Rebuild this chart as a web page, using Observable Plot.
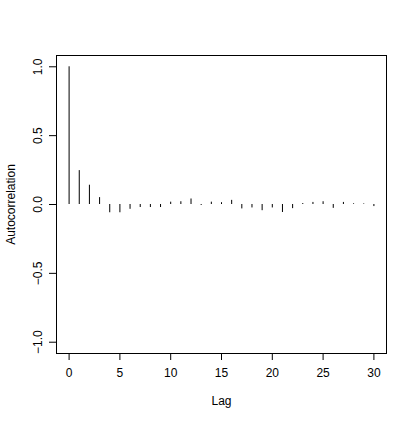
<!DOCTYPE html>
<html>
<head>
<meta charset="utf-8">
<script src="https://cdn.jsdelivr.net/npm/d3@7"></script>
<script src="https://cdn.jsdelivr.net/npm/@observablehq/plot@0.6"></script>
<style>
  html, body { margin: 0; padding: 0; background: #fff; }
  svg { display: block; }
</style>
</head>
<body>
<div id="chart"></div>
<script>
const lags = [0,1,2,3,4,5,6,7,8,9,10,11,12,13,14,15,16,17,18,19,20,21,22,23,24,25,26,27,28,29,30];
const acf  = [1.0,0.246,0.14,0.05,-0.06,-0.06,-0.035,-0.022,-0.022,-0.022,0.017,0.02,0.04,-0.007,0.017,0.013,0.03,-0.032,-0.025,-0.045,-0.025,-0.058,-0.03,0.007,0.015,0.02,-0.028,0.015,0.005,0.004,-0.015];
const xTicks = [0,5,10,15,20,25,30];
const yTicks = [-1,-0.5,0,0.5,1];

const data = lags.map((l, i) => ({lag: l, acf: acf[i]}));

const chart = Plot.plot({
  width: 415,
  height: 423,
  marginLeft: 56,
  marginRight: 29,
  marginTop: 55,
  marginBottom: 70,
  style: {fontFamily: "'Liberation Sans', Arial, sans-serif", fontSize: "12px", background: "#fff", color: "#000"},
  x: {domain: [-1.24, 31.24]},
  y: {domain: [-1.082, 1.082]},
  marks: [
    Plot.frame({stroke: "#000", strokeWidth: 1}),
    Plot.axisX({
      ticks: xTicks, tickSize: 7, tickPadding: 8, tickFormat: d => String(d),
      fontSize: 12, label: "Lag", labelAnchor: "center", labelArrow: "none", labelOffset: 51
    }),
    Plot.axisY({
      ticks: yTicks, tickSize: 7, tickPadding: 8, tickRotate: -90,
      tickFormat: d => (d < 0 ? "\u2212" : "") + Math.abs(d).toFixed(1),
      fontSize: 12, label: "Autocorrelation", labelAnchor: "center", labelArrow: "none", labelOffset: 50
    }),
    Plot.ruleX(data, {x: "lag", y1: 0, y2: "acf", stroke: "#000", strokeWidth: 1})
  ]
});
document.getElementById("chart").appendChild(chart);
</script>
</body>
</html>
